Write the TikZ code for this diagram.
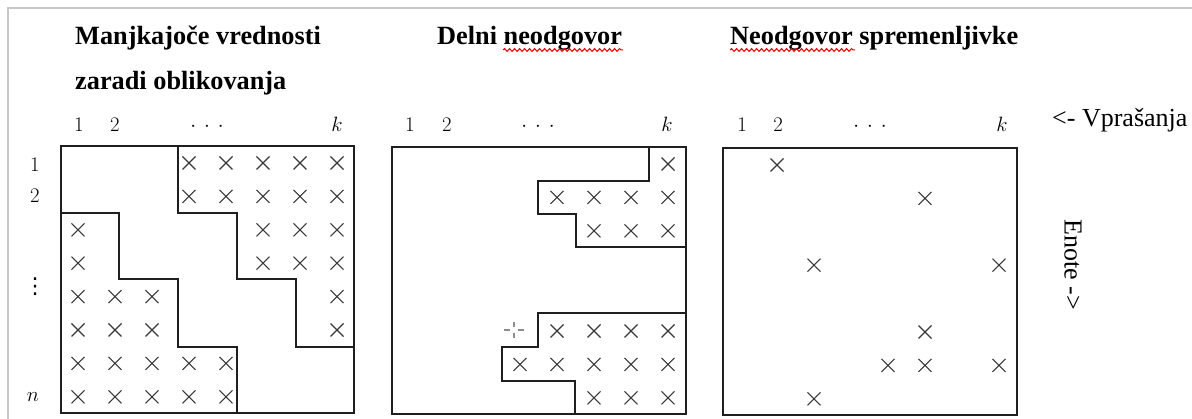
\documentclass[tikz,border=0pt]{standalone}
\usepackage{fontspec}
\setmainfont{Liberation Serif}
\newfontfamily\symbolfont{DejaVu Sans}
\usetikzlibrary{decorations.pathmorphing}

\tikzset{
  cellx/.pic={\draw[crossline] (-6.5,-6.5) -- (6.5,6.5) (-6.5,6.5) -- (6.5,-6.5);},
}

\begin{document}
\begin{tikzpicture}[x=1pt,y=-1pt,
  frame/.style={draw=black!22, line width=2pt},
  box/.style={draw=black!88, line width=1.8pt},
  stair/.style={draw=black!88, line width=1.8pt, line join=miter},
  crossline/.style={draw=black!78, line width=1.1pt},
  hintline/.style={draw=black!45, line width=1.2pt},
  title/.style={font=\fontsize{26.3}{30}\selectfont\bfseries, anchor=base west, inner sep=0pt},
  axislabel/.style={font=\fontsize{26}{30}\selectfont, inner sep=0pt},
  idx/.style={font=\fontsize{21.5}{24}\selectfont, anchor=base, inner sep=0pt},
  squiggle/.style={draw=red!90!black, line width=1pt, decorate,
    decoration={snake, amplitude=1.4pt, segment length=5pt}},
]
\useasboundingbox (0,0) rectangle (1192,419);

% page frame (top and left edges)
\draw[frame] (8,419) -- (8,8) -- (1192,8);

% ---------- titles ----------
\node[title] (t1a) at (75,45) {Manjkajoče vrednosti};
\node[title] (t1b) at (75,90) {zaradi oblikovanja};
\node[title] (t2)  at (437,45) {Delni neodgovor};
\node[title] (t3)  at (730,45) {Neodgovor spremenljivke};
\draw[squiggle] (503,50) -- (623,50);
\draw[squiggle] (730,50) -- (855,50);

% ---------- axis labels ----------
\node[axislabel, anchor=base west] (questions) at (1052,127) {<- Vprašanja};
\node[axislabel, anchor=center, rotate=-90] (units) at (1073,265) {Enote ->};

% ---------- column indices ----------
\foreach \p/\xa/\xb/\xd/\xk in {a/79/115/207/337, b/410/447/538/667, c/742/778/870/1002}{
  \node[idx] (c1\p) at (\xa,132) {$1$};
  \node[idx] (c2\p) at (\xb,132) {$2$};
  \node[idx] (cd\p) at (\xd,132) {$\cdotp\mkern4mu\cdotp\mkern4mu\cdotp$};
  \node[idx] (ck\p) at (\xk,132) {$k$};
}

% ---------- row indices ----------
\node[idx] (r1) at (35,172) {$1$};
\node[idx] (r2) at (35,203) {$2$};
\node[anchor=center, inner sep=0pt, font=\fontsize{22}{24}\symbolfont] (rd) at (35,287) {⋮};
\node[idx] (rn) at (33,402) {$n$};

% ---------- panel 1: missing by design ----------
\draw[box] (61,146) rectangle (354,413);
\draw[stair] (61,213) -- (119,213) -- (119,279) -- (178,279) -- (178,347) -- (237,347) -- (237,413);
\draw[stair] (178,146) -- (178,213) -- (237,213) -- (237,279) -- (296,279) -- (296,347) -- (354,347);
\foreach \r/\cols in {1/{4,5,6,7,8}, 2/{4,5,6,7,8}, 3/{1,6,7,8}, 4/{1,6,7,8},
                      5/{1,2,3,8}, 6/{1,2,3,8}, 7/{1,2,3,4,5}, 8/{1,2,3,4,5}}{
  \foreach \c in \cols
    \pic at ({78+37*(\c-1)},{163+33.4*(\r-1)}) {cellx};
}

% ---------- panel 2: item nonresponse ----------
\draw[box] (392,147) rectangle (686,414);
\draw[stair] (649,147) -- (649,181) -- (538,181) -- (538,214) -- (576,214) -- (576,247) -- (686,247);
\draw[stair] (686,313) -- (538,313) -- (538,347) -- (502,347) -- (502,381) -- (575,381) -- (575,414);
\foreach \r/\cols in {1/{8}, 2/{5,6,7,8}, 3/{6,7,8}, 6/{5,6,7,8}, 7/{4,5,6,7,8}, 8/{6,7,8}}{
  \foreach \c in \cols
    \pic at ({409+37*(\c-1)},{164+33.4*(\r-1)}) {cellx};
}
% faint dashed mark beside the lower block
\draw[hintline] (504,330) -- (510,330) (518,330) -- (524,330)
                (514,322) -- (514,327) (514,333) -- (514,338);

% ---------- panel 3: variable nonresponse ----------
\draw[box] (723,148) rectangle (1017,415);
\foreach \r/\c in {1/2, 2/6, 4/3, 4/8, 6/6, 7/5, 7/6, 7/8, 8/3}{
  \pic at ({740+37*(\c-1)},{165+33.4*(\r-1)}) {cellx};
}
\end{tikzpicture}
\end{document}
